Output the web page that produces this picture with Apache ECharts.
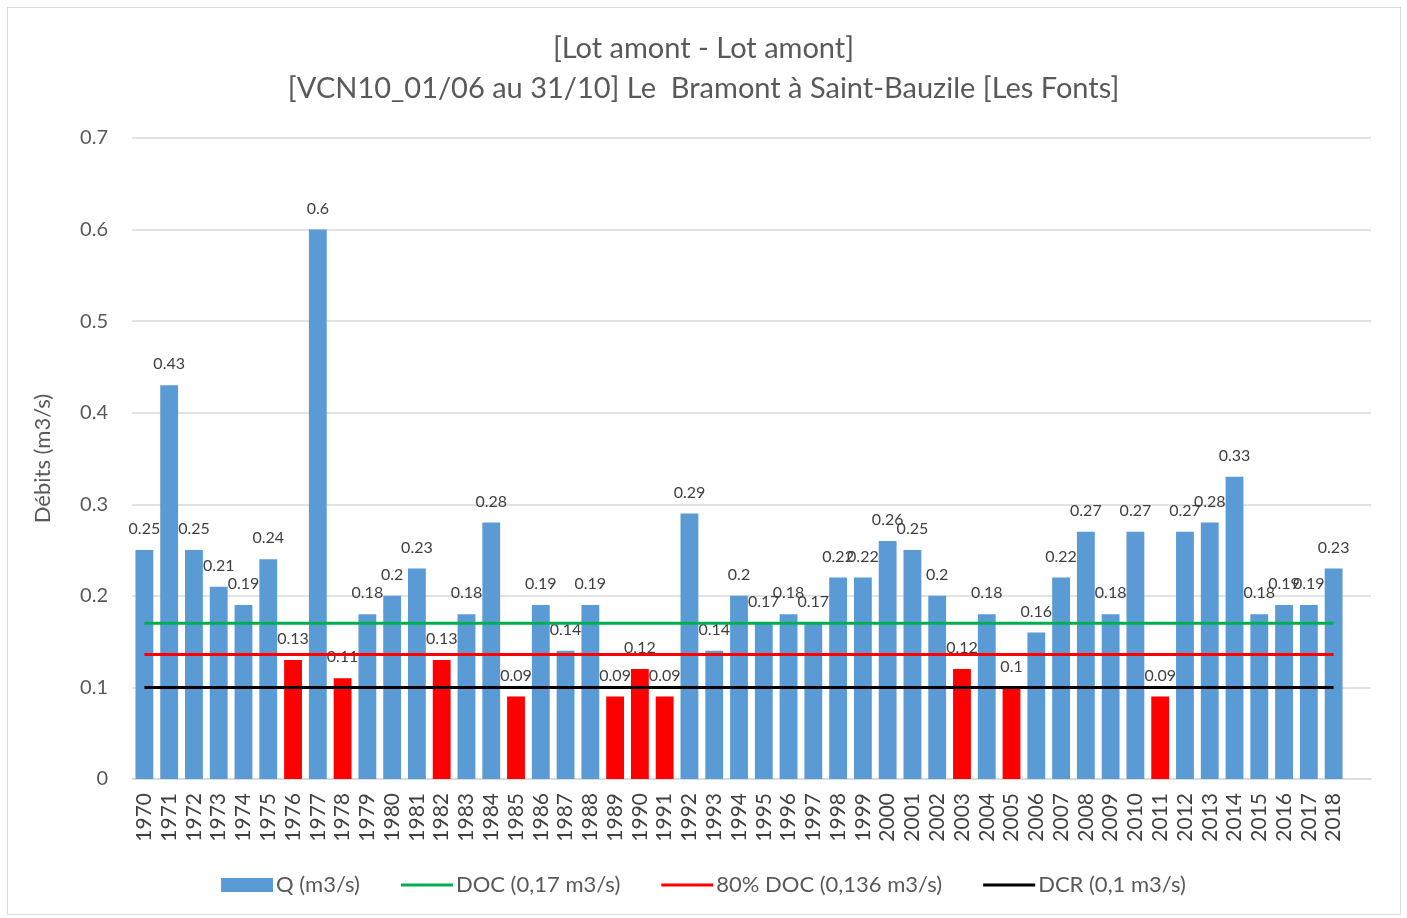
<!DOCTYPE html>
<html>
<head>
<meta charset="utf-8">
<script src="https://cdn.jsdelivr.net/npm/echarts@6/dist/echarts.min.js"></script>
<style>
  html, body { margin: 0; padding: 0; background: #fff; }
  #frame { position: absolute; left: 7px; top: 7px; width: 1392px; height: 906px; border: 1px solid #d9d9d9; }
  #chart { position: absolute; left: 0; top: 0; width: 1407px; height: 918px; }
</style>
</head>
<body>
<div id="frame"></div>
<div id="chart"></div>
<script>
// années
const years = ['1970','1971','1972','1973','1974','1975','1976','1977','1978','1979',
  '1980','1981','1982','1983','1984','1985','1986','1987','1988','1989',
  '1990','1991','1992','1993','1994','1995','1996','1997','1998','1999',
  '2000','2001','2002','2003','2004','2005','2006','2007','2008','2009',
  '2010','2011','2012','2013','2014','2015','2016','2017','2018'];

// VCN10 (m3/s)
const debits = [0.25, 0.43, 0.25, 0.21, 0.19, 0.24, 0.13, 0.6, 0.11, 0.18,
  0.2, 0.23, 0.13, 0.18, 0.28, 0.09, 0.19, 0.14, 0.19, 0.09,
  0.12, 0.09, 0.29, 0.14, 0.2, 0.17, 0.18, 0.17, 0.22, 0.22,
  0.26, 0.25, 0.2, 0.12, 0.18, 0.1, 0.16, 0.22, 0.27, 0.18,
  0.27, 0.09, 0.27, 0.28, 0.33, 0.18, 0.19, 0.19, 0.23];

// seuils
const doc = 0.17;
const doc80 = 0.136;
const dcr = 0.1;

const yTicks = [0, 0.1, 0.2, 0.3, 0.4, 0.5, 0.6, 0.7];

const font = 'Lato, "Liberation Sans", sans-serif';
const lineIcon = 'path://M0,0L52,0L52,3L0,3Z';

let myChart = echarts.init(document.getElementById('chart'));

function seuil(v) {
  return years.map(() => v);
}

let lineItem = function (name, level, color) {
  return {
    name: name,
    type: 'line',
    xAxisIndex: 0,
    yAxisIndex: 0,
    data: seuil(level),
    symbol: 'none',
    z: 5,
    lineStyle: { color: color, width: 3 },
    itemStyle: { color: color },
    silent: true
  };
};

let option = {
  animation: false,
  textStyle: { fontFamily: font },
  title: {
    text: '[Lot amont - Lot amont]\n[VCN10_01/06 au 31/10] Le  Bramont à Saint-Bauzile [Les Fonts]',
    left: 'center',
    top: 24,
    textStyle: { fontSize: 29, fontWeight: 'normal', color: '#595959', lineHeight: 40, fontFamily: font }
  },
  // grille 0 : barres et seuils ; grille 1 : quadrillage seul (plus large, comme Excel)
  grid: [
    { left: 132, right: 61, top: 138, bottom: 139 },
    { left: 132, right: 36, top: 138, bottom: 139 }
  ],
  legend: {
    bottom: 17,
    left: 'center',
    itemGap: 41,
    itemWidth: 52,
    itemHeight: 14,
    textStyle: { fontSize: 22, color: '#595959', fontFamily: font, padding: [0, 0, 0, -2] },
    data: [
      { name: 'Q (m3/s)', icon: 'rect', itemStyle: { color: '#5B9BD5' } },
      { name: 'DOC (0,17 m3/s)', icon: lineIcon },
      { name: '80% DOC (0,136 m3/s)', icon: lineIcon },
      { name: 'DCR (0,1 m3/s)', icon: lineIcon }
    ]
  },
  xAxis: [
    {
      type: 'category',
      gridIndex: 0,
      data: years,
      boundaryGap: true,
      axisLine: { show: false },
      axisTick: { show: false },
      axisLabel: { rotate: 90, fontSize: 21, color: '#404040', margin: 14, interval: 0, fontFamily: font }
    },
    {
      type: 'value',
      gridIndex: 1,
      min: 0,
      max: 1,
      axisLine: { show: true, lineStyle: { color: '#d9d9d9', width: 1.5 } },
      axisTick: { show: false },
      axisLabel: { show: false },
      splitLine: { show: false }
    }
  ],
  yAxis: [
    {
      type: 'value',
      gridIndex: 0,
      min: yTicks[0],
      max: yTicks[yTicks.length - 1],
      interval: 0.1,
      name: 'Débits (m3/s)',
      nameLocation: 'middle',
      nameGap: 78,
      nameTextStyle: { fontSize: 22, color: '#595959', fontFamily: font },
      axisLine: { show: false },
      axisTick: { show: false },
      axisLabel: { fontSize: 20, color: '#595959', margin: 24, fontFamily: font },
      splitLine: { show: false }
    },
    {
      type: 'value',
      gridIndex: 1,
      min: yTicks[0],
      max: yTicks[yTicks.length - 1],
      interval: 0.1,
      axisLine: { show: false },
      axisTick: { show: false },
      axisLabel: { show: false },
      splitLine: { lineStyle: { color: '#d9d9d9', width: 1.5 } }
    }
  ],
  series: [
    {
      name: 'Q (m3/s)',
      type: 'bar',
      xAxisIndex: 0,
      yAxisIndex: 0,
      data: debits,
      barWidth: '72%',
      itemStyle: {
        color: function (p) { return p.value < doc80 ? '#FF0000' : '#5B9BD5'; }
      },
      label: {
        show: true,
        position: 'top',
        distance: 13,
        fontSize: 16,
        color: '#404040',
        fontFamily: font
      },
      z: 2
    },
    lineItem('DOC (0,17 m3/s)', doc, '#00B050'),
    lineItem('80% DOC (0,136 m3/s)', doc80, '#FF0000'),
    lineItem('DCR (0,1 m3/s)', dcr, '#000000')
  ]
};

myChart.setOption(option);
window.onresize = function () {
  myChart.resize();
};
</script>
</body>
</html>
